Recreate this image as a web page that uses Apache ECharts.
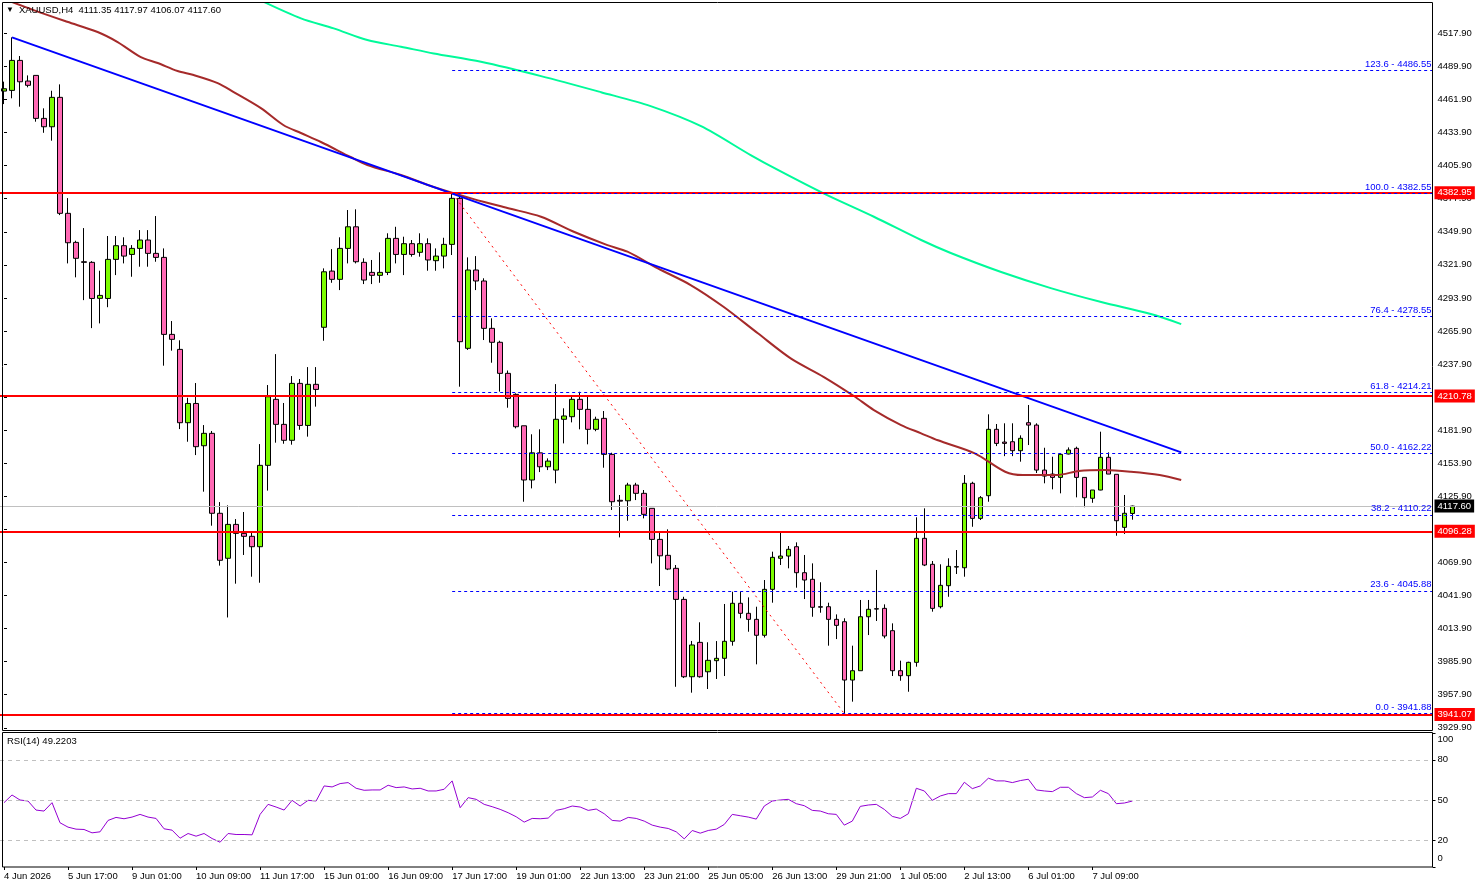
<!DOCTYPE html>
<html>
<head>
<meta charset="utf-8">
<script src="https://cdn.jsdelivr.net/npm/echarts@6/dist/echarts.min.js"></script>
<style>
  html, body { margin: 0; padding: 0; background: #fff; }
  #chart { width: 1479px; height: 888px; }
</style>
</head>
<body>
<div id="chart"></div>
<script>
// XAUUSD H4 bars
const opens = [4469.0,4469.6,4495.0,4477.5,4482.3,4445.9,4438.8,4463.7,4365.5,4340.9,
  4324.5,4324.0,4293.5,4293.4,4326.5,4338.1,4330.7,4335.8,4342.9,4331.6,
  4328.2,4263.0,4250.3,4188.2,4204.5,4168.7,4179.2,4111.5,4073.4,4102.1,
  4094.5,4092.0,4083.2,4152.1,4208.0,4186.8,4173.3,4221.5,4185.9,4220.7,
  4269.0,4316.6,4309.6,4335.8,4354.1,4324.0,4315.5,4313.0,4315.5,4344.3,
  4330.7,4339.8,4332.5,4339.8,4325.4,4329.3,4339.2,4378.2,4251.2,4317.5,
  4308.2,4268.1,4256.3,4230.0,4212.2,4185.6,4139.7,4162.7,4150.9,4148.1,
  4191.1,4193.3,4208.0,4199.5,4182.6,4191.9,4161.4,4122.5,4122.1,4135.4,
  4128.4,4115.7,4089.4,4075.9,4064.9,4038.6,3973.1,4002.2,3977.3,3986.7,
  3988.7,4003.1,4035.3,4026.8,4021.7,4008.2,4047.1,4073.4,4075.3,4083.2,
  4061.2,4055.6,4032.4,4032.4,4021.7,4019.7,3970.3,3978.2,4023.9,4030.7,
  4031.0,4012.1,3978.2,3974.0,3985.3,4090.3,4068.3,4032.4,4050.2,4066.0,
  4065.4,4136.9,4107.2,4126.4,4182.6,4171.8,4172.1,4164.5,4188.2,4186.2,
  4148.1,4144.7,4141.9,4161.7,4166.5,4141.9,4124.2,4131.2,4158.9,4144.5,
  4099.6,4111.35]
const highs = [4477.0,4514.5,4498.7,4482.3,4482.3,4454.4,4469.3,4474.7,4378.4,4342.3,
  4353.0,4325.0,4316.9,4346.3,4346.3,4345.2,4338.6,4351.3,4351.3,4363.2,
  4335.8,4274.3,4258.0,4209.3,4221.8,4186.2,4181.2,4121.0,4118.2,4106.6,
  4112.6,4095.4,4170.1,4220.1,4246.3,4204.9,4227.7,4225.2,4235.3,4235.3,
  4318.9,4335.2,4345.2,4368.3,4368.9,4327.4,4326.0,4332.5,4348.6,4354.1,
  4345.7,4342.9,4348.6,4344.3,4335.8,4344.8,4382.55,4382.0,4328.2,4329.3,
  4310.5,4276.6,4257.6,4232.4,4213.1,4185.6,4178.4,4182.6,4158.0,4220.9,
  4200.4,4210.2,4214.4,4210.2,4193.3,4198.1,4162.8,4127.0,4137.3,4137.3,
  4131.2,4115.7,4095.9,4097.9,4067.7,4040.8,4003.4,4019.2,4002.3,4003.3,
  4034.7,4045.1,4045.1,4040.3,4032.4,4055.0,4079.0,4095.9,4083.8,4086.9,
  4076.2,4069.1,4053.1,4035.8,4025.9,4022.6,3999.4,4038.1,4038.1,4063.5,
  4034.4,4018.3,3986.7,3985.8,4108.1,4115.7,4071.1,4068.3,4073.4,4080.4,
  4143.9,4138.2,4126.1,4195.3,4187.1,4187.7,4187.7,4177.5,4203.2,4187.7,
  4167.0,4159.4,4161.4,4167.3,4167.9,4141.9,4131.2,4180.6,4163.1,4144.5,
  4127.0,4117.97]
const lows = [4458.0,4462.9,4455.8,4472.2,4443.1,4433.7,4427.0,4364.0,4323.1,4311.3,
  4292.0,4268.3,4272.3,4286.0,4313.2,4323.1,4311.8,4320.3,4320.3,4324.5,
  4236.5,4249.2,4182.8,4172.1,4160.8,4129.8,4101.0,4067.2,4023.3,4051.9,
  4076.2,4057.8,4052.7,4130.7,4171.3,4170.4,4169.6,4182.2,4176.4,4201.8,
  4257.6,4306.7,4300.5,4323.1,4323.1,4305.6,4305.6,4306.7,4313.2,4323.1,
  4313.2,4328.8,4328.8,4316.9,4316.9,4318.9,4330.2,4218.7,4249.8,4300.5,
  4258.2,4239.0,4214.5,4200.9,4183.4,4121.3,4132.6,4146.4,4148.1,4136.9,
  4170.7,4188.5,4182.6,4169.9,4181.0,4150.1,4114.3,4091.1,4105.2,4122.7,
  4107.2,4069.1,4049.9,4063.4,3964.6,3972.0,3959.6,3972.3,3962.7,3971.2,
  3973.7,3999.4,4022.6,4011.2,3983.6,4006.3,4035.8,4067.7,4064.9,4048.5,
  4038.9,4023.9,4027.3,3999.4,4005.0,3941.88,3952.0,3978.2,4008.4,4020.3,
  4005.6,3973.7,3969.7,3960.4,3981.6,4066.8,4028.2,4031.0,4040.8,4060.1,
  4057.8,4100.1,4105.8,4121.3,4168.4,4159.9,4159.9,4155.2,4169.3,4145.6,
  4136.9,4131.8,4128.4,4161.4,4125.0,4116.6,4120.4,4131.0,4144.7,4092.5,
  4094.0,4106.07]
const closes = [4471.0,4495.0,4476.9,4473.9,4445.9,4438.8,4463.7,4365.5,4340.6,4327.4,
  4324.0,4293.4,4296.0,4326.5,4338.1,4329.3,4335.8,4342.9,4331.6,4328.2,
  4263.0,4258.8,4188.2,4204.5,4167.9,4179.2,4111.5,4071.7,4102.1,4094.5,
  4092.0,4083.2,4152.1,4210.2,4186.8,4173.3,4221.5,4185.9,4220.7,4216.4,
  4316.0,4309.6,4335.8,4354.1,4324.5,4309.0,4313.0,4315.5,4344.3,4330.7,
  4339.8,4330.7,4339.8,4326.0,4329.3,4339.2,4378.2,4256.8,4317.5,4308.2,
  4268.1,4256.3,4230.0,4208.8,4184.8,4139.7,4162.7,4150.9,4155.7,4191.1,
  4193.9,4208.0,4199.5,4182.6,4191.1,4161.4,4121.3,4121.8,4135.4,4128.4,
  4110.6,4089.4,4075.5,4064.3,4038.6,3973.1,4000.0,3973.1,3987.0,3988.7,
  4003.1,4035.3,4026.8,4021.7,4008.2,4047.1,4074.2,4075.3,4081.0,4061.2,
  4055.0,4031.9,4032.0,4021.7,4016.6,3970.3,3978.2,4023.9,4030.2,4030.4,
  4007.6,3978.2,3974.0,3985.3,4090.3,4067.7,4031.0,4050.5,4066.6,4066.3,
  4136.9,4107.2,4124.7,4182.6,4170.7,4170.7,4164.5,4175.0,4186.2,4148.1,
  4143.0,4141.9,4161.4,4165.1,4141.9,4124.7,4131.2,4158.9,4144.7,4105.2,
  4111.5,4117.60]

const rsi = [48.0,53.75,50.0,49.25,42.5,41.75,48.0,33.0,29.75,28.25,
  28.0,25.5,26.25,34.75,37.0,36.0,37.25,39.25,37.25,36.25,
  28.5,27.5,21.5,25.0,23.0,25.0,21.25,18.5,25.0,24.25,
  24.25,24.0,39.25,46.75,44.75,42.5,49.75,45.5,49.75,49.25,
  60.5,59.75,62.25,63.0,58.75,57.25,57.5,57.5,61.0,59.25,
  59.75,58.25,58.75,56.75,56.75,58.0,64.25,44.25,51.75,50.5,
  46.75,45.0,43.0,40.5,37.5,33.5,36.25,36.0,36.5,42.25,
  43.5,45.5,44.75,42.25,43.25,39.75,34.75,34.25,37.0,36.25,
  34.25,31.25,29.75,28.75,26.25,21.0,27.25,25.25,27.25,28.25,
  31.75,39.25,38.25,37.25,35.75,45.5,49.25,50.0,50.5,47.25,
  45.75,42.25,41.75,39.75,39.25,31.25,34.25,45.25,46.25,46.75,
  43.0,37.75,36.25,39.75,58.75,56.75,49.75,53.0,54.75,54.75,
  63.25,58.5,60.5,66.25,64.25,64.25,63.0,64.5,65.5,57.5,
  56.75,56.25,59.5,59.5,54.75,51.75,52.25,57.25,54.75,47.25,
  47.75,49.2203]

// moving averages, [bar index, price]
const maBrown = [[0,4547],[3.7,4537.6],[7.9,4527.7],[11.7,4519.0],[14.2,4510.5],[17.1,4497.8],
  [19.2,4492.8],[21.7,4486.0],[23.7,4482.6],[26.7,4475.8],[28.7,4468.2],[32.1,4454.6],
  [34.9,4440.3],[37.1,4433.5],[39.6,4425.9],[43.3,4413.2],[45.4,4406.4],[49.6,4397.9],
  [53.7,4387.8],[58.7,4377.5],[62.9,4370.0],[67.1,4362.6],[71.2,4349.9],[75.4,4338.6],
  [77.9,4333.0],[81.7,4318.9],[85.8,4304.8],[89.9,4286.4],[94.2,4263.9],[98.3,4242.7],
  [102.4,4227.1],[106.2,4210.8],[108.7,4198.9],[112.1,4186.2],[114.6,4179.2],[116.7,4173.3],
  [121.3,4162.3],[125.1,4146.7],[127.3,4143.9],[131.6,4143.9],[134.3,4147.3],[137.6,4148.1],
  [140.8,4146.7],[144.4,4143.9],[147.1,4139.7]]
const maGreen = [[32.4,4544.7],[37.1,4530.6],[41.2,4522.1],[45.4,4512.2],[49.6,4506.6],
  [53.7,4500.9],[59.6,4493.8],[67.1,4481.7],[74.6,4468.1],[80.8,4456.3],[87.1,4439.3],
  [93.3,4414.8],[96.7,4402.2],[102.4,4382.4],[108.7,4362.6],[114.6,4342.9],[118.3,4331.9],
  [124.6,4315.8],[130.8,4302.2],[137.1,4290.4],[143.3,4280.2],[147.1,4271.7]]

const trendBlue = [[1, 4514.5], [147.1, 4163.1]]
const trendRed = [[56, 4382.55], [105, 3941.88]]

const fibStart = 56
const fibRatios = [123.6, 100.0, 76.4, 61.8, 50.0, 38.2, 23.6, 0.0]
const fibPrices = [4486.55, 4382.55, 4278.55, 4214.21, 4162.22, 4110.22, 4045.88, 3941.88]

const redLevels = [4382.95, 4210.78, 4096.28, 3941.07]
const bidPrice = 4117.60

const priceTicks = [3929.9, 3957.9, 3985.9, 4013.9, 4041.9, 4069.9, 4097.9, 4125.9, 4153.9,
  4181.9, 4209.9, 4237.9, 4265.9, 4293.9, 4321.9, 4349.9, 4377.9, 4405.9, 4433.9,
  4461.9, 4489.9, 4517.9]
const rsiTicks = [0, 20, 50, 80, 100]
const rsiLevels = [20, 50, 80]

const timeLabels = ['4 Jun 2026', '5 Jun 17:00', '9 Jun 01:00', '10 Jun 09:00', '11 Jun 17:00',
  '15 Jun 01:00', '16 Jun 09:00', '17 Jun 17:00', '19 Jun 01:00', '22 Jun 13:00',
  '23 Jun 21:00', '25 Jun 05:00', '26 Jun 13:00', '29 Jun 21:00', '1 Jul 05:00',
  '2 Jul 13:00', '6 Jul 01:00', '7 Jul 09:00']
const labelStep = 8
const slotCount = 179

const FONT = 'Liberation Sans, Arial, sans-serif'
const FIB_BLUE = '#0000ff'
const cats = Array.from({ length: slotCount }, (_, i) => String(i))
const candles = opens.map((o, i) => [o, closes[i], lows[i], highs[i]])
const last = opens.length - 1

const chart = echarts.init(document.getElementById('chart'), null, { renderer: 'canvas' })

const showTime = idx => idx % labelStep === 0 && idx / labelStep < timeLabels.length

chart.setOption({
  animation: false,
  backgroundColor: '#fff',
  textStyle: { fontFamily: FONT },
  title: [
    {
      text: `{t|▼}XAUUSD,H4  ${opens[last].toFixed(2)} ${highs[last].toFixed(2)} ${lows[last].toFixed(2)} ${closes[last].toFixed(2)}`,
      left: 6, top: 5, padding: 0,
      textStyle: {
        fontSize: 9.5, fontWeight: 'normal', color: '#000', fontFamily: FONT,
        rich: { t: { fontSize: 8, color: '#000', padding: [0, 5, 0, 0] } },
      },
    },
    {
      text: `RSI(14) ${rsi[last].toFixed(4)}`,
      left: 7, top: 736, padding: 0,
      textStyle: { fontSize: 9.5, fontWeight: 'normal', color: '#000', fontFamily: FONT },
    },
  ],
  grid: [
    { left: -0.5, width: 1433, top: 3, height: 727 },
    { left: -0.5, width: 1433, top: 733, height: 134 },
  ],
  xAxis: [
    { type: 'category', gridIndex: 0, data: cats, show: false },
    { type: 'value', gridIndex: 0, min: -0.5, max: slotCount - 0.5, show: false },
    {
      type: 'category', gridIndex: 1, data: cats,
      axisLine: { show: false },
      axisTick: { show: true, interval: showTime, alignWithLabel: true, length: 3, lineStyle: { color: '#000' } },
      axisLabel: {
        interval: showTime, align: 'left', margin: 4, color: '#000', fontSize: 9.5, fontFamily: FONT,
        formatter: (v, i) => timeLabels[i / labelStep] || '',
      },
    },
  ],
  yAxis: [
    {
      type: 'value', gridIndex: 0, position: 'right', min: 3928.0, max: 4543.6,
      axisLine: { show: false },
      splitLine: { show: false },
      axisTick: { show: true, length: 3, customValues: priceTicks, lineStyle: { color: '#000' } },
      axisLabel: {
        customValues: priceTicks, margin: 5, color: '#000', fontSize: 9.5, fontFamily: FONT,
        formatter: v => v.toFixed(2),
      },
    },
    {
      type: 'value', gridIndex: 1, position: 'right', min: 0, max: 100,
      axisLine: { show: false },
      splitLine: { show: false },
      axisTick: { show: true, length: 3, customValues: rsiTicks, lineStyle: { color: '#000' } },
      axisLabel: {
        customValues: rsiTicks, margin: 5, color: '#000', fontSize: 9.5, fontFamily: FONT,
        formatter: v => v === 100 ? '{t|100}' : v === 0 ? '{b|0}' : String(v),
        rich: {
          t: { padding: [12, 0, 0, 0], fontSize: 9.5, color: '#000' },
          b: { padding: [0, 0, 17, 0], fontSize: 9.5, color: '#000' },
        },
      },
    },
  ],
  graphic: [
    { type: 'rect', shape: { x: 2.5, y: 2.5, width: 1430, height: 728 }, style: { fill: 'none', stroke: '#000', lineWidth: 1 }, z: 100 },
    { type: 'rect', shape: { x: 2.5, y: 732.5, width: 1430, height: 134.5 }, style: { fill: 'none', stroke: '#000', lineWidth: 1 }, z: 100 },
  ],
  series: [
    {
      name: 'XAUUSD',
      type: 'candlestick',
      xAxisIndex: 0, yAxisIndex: 0,
      data: candles,
      barWidth: 5,
      itemStyle: {
        color: '#7CFC00', color0: '#FF69B4',
        borderColor: '#000', borderColor0: '#000', borderWidth: 1,
      },
      markLine: {
        silent: true, symbol: 'none', animation: false,
        data: [
          {
            yAxis: bidPrice,
            lineStyle: { color: '#c0c0c0', width: 1, type: 'solid' },
            label: { backgroundColor: '#000', color: '#fff' },
          },
          ...redLevels.map(v => ({
            yAxis: v,
            lineStyle: { color: '#ff0000', width: 2, type: 'solid' },
            label: { backgroundColor: '#ff0000', color: '#fff' },
          })),
        ],
        label: {
          show: true, position: 'end', distance: 2,
          padding: [2, 3, 1, 3], fontSize: 9.5, fontFamily: FONT,
          formatter: p => Number(p.value).toFixed(2),
        },
      },
      z: 3,
    },
    {
      name: 'MA slow',
      type: 'line', xAxisIndex: 1, yAxisIndex: 0,
      data: maGreen, symbol: 'none', smooth: 0.3,
      lineStyle: { color: '#00FA9A', width: 2 },
      z: 4,
    },
    {
      name: 'MA fast',
      type: 'line', xAxisIndex: 1, yAxisIndex: 0,
      data: maBrown, symbol: 'none', smooth: 0.3,
      lineStyle: { color: '#A52A2A', width: 2 },
      z: 4,
    },
    {
      name: 'Fibo swing',
      type: 'line', xAxisIndex: 1, yAxisIndex: 0,
      data: trendRed, symbol: 'none',
      lineStyle: { color: '#ff0000', width: 1, type: [2, 4] },
      z: 4,
    },
    {
      name: 'Trendline',
      type: 'line', xAxisIndex: 1, yAxisIndex: 0,
      data: trendBlue, symbol: 'none',
      color: '#0000ff',
      lineStyle: { color: '#0000ff', width: 2 },
      markLine: {
        silent: true, symbol: 'none', animation: false,
        lineStyle: { color: FIB_BLUE, width: 1, type: [3, 3], opacity: 1 },
        label: {
          show: true, position: 'insideEndTop', distance: 1,
          color: FIB_BLUE, fontSize: 9.5, fontFamily: FONT,
          formatter: '{b}',
        },
        data: fibPrices.map((p, i) => [
          {
            coord: [fibStart, p],
            name: `${fibRatios[i].toFixed(1)} - ${p.toFixed(2)}`,
            lineStyle: { color: FIB_BLUE, width: 1, type: [3, 3] },
          },
          { coord: [slotCount - 0.5, p] },
        ]),
      },
      z: 4,
    },
    {
      name: 'RSI(14)',
      type: 'line', xAxisIndex: 2, yAxisIndex: 1,
      data: rsi, symbol: 'none',
      lineStyle: { color: '#9400D3', width: 1 },
      markLine: {
        silent: true, symbol: 'none', animation: false,
        lineStyle: { color: '#c0c0c0', width: 1, type: [4, 4] },
        label: { show: false },
        data: rsiLevels.map(v => ({ yAxis: v })),
      },
    },
  ],
})
</script>
</body>
</html>
